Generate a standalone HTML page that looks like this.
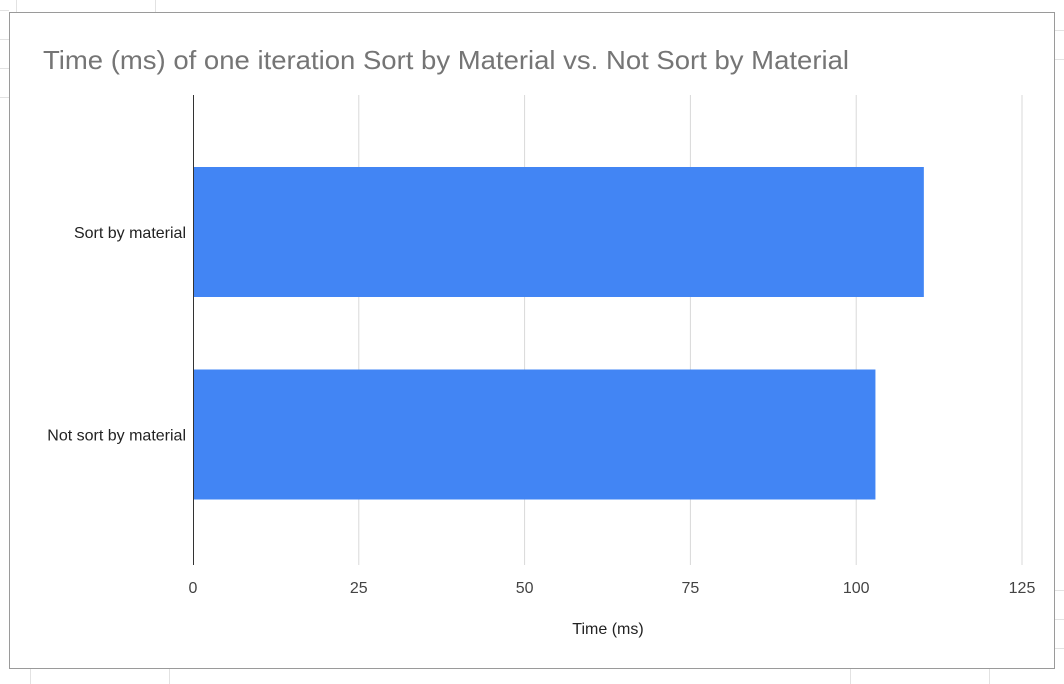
<!DOCTYPE html>
<html><head><meta charset="utf-8"><style>
body{margin:0;width:1064px;height:684px;background:#fff;position:relative;overflow:hidden;font-family:"Liberation Sans",Arial,sans-serif}
svg{position:absolute;left:0;top:0}
</style></head><body>
<svg width="1064" height="684">
<g stroke="#e2e2e2" stroke-width="1">
<line x1="16.5" y1="0" x2="16.5" y2="12"/><line x1="155.5" y1="0" x2="155.5" y2="12"/>
<line x1="0" y1="10.5" x2="9" y2="10.5"/>
<line x1="0" y1="39.5" x2="9" y2="39.5"/><line x1="0" y1="68.5" x2="9" y2="68.5"/><line x1="0" y1="97.5" x2="9" y2="97.5"/>
<line x1="30.5" y1="669" x2="30.5" y2="684"/><line x1="169.5" y1="669" x2="169.5" y2="684"/><line x1="850.5" y1="669" x2="850.5" y2="684"/><line x1="989.5" y1="669" x2="989.5" y2="684"/>
<line x1="1055" y1="590.5" x2="1064" y2="590.5"/><line x1="1055" y1="619.5" x2="1064" y2="619.5"/><line x1="1055" y1="648.5" x2="1064" y2="648.5"/>
<line x1="1055" y1="30.5" x2="1064" y2="30.5"/><line x1="1055" y1="59.5" x2="1064" y2="59.5"/>
</g>
<rect x="9.5" y="12.5" width="1045" height="656" fill="#fff" stroke="#9a9a9a"/>
<text x="43" y="69" font-size="26" fill="#757575" textLength="806" lengthAdjust="spacingAndGlyphs">Time (ms) of one iteration Sort by Material vs. Not Sort by Material</text>
<g id="grid"></g><g id="bars"></g><g id="labels"></g>
<text x="608" y="634" font-size="16" fill="#222" text-anchor="middle">Time (ms)</text>
</svg>
<script>
const categories=["Sort by material","Not sort by material"];
const values=[110.2,102.9];
const ticks=[0,25,50,75,100,125];
const NS="http://www.w3.org/2000/svg";
const X0=193,X1=1022,XMAX=125,PTOP=95,PBOT=565;
const xs=v=>X0+(X1-X0)*v/XMAX;
const C0=232,BAND=202.5,BH=130;
function mk(t,a,p){const e=document.createElementNS(NS,t);for(const k in a)e.setAttribute(k,a[k]);p.appendChild(e);return e;}
const gg=document.getElementById('grid'),bb=document.getElementById('bars'),ll=document.getElementById('labels');
ticks.forEach(t=>{
 if(t>0){const ln=mk('line',{x1:xs(t),x2:xs(t),y1:PTOP,y2:PBOT,stroke:'#d9d9d9','stroke-width':1},gg);
 
 }
 const tx=mk('text',{x:xs(t),y:593,'font-size':16,fill:'#444','text-anchor':'middle'},ll);tx.textContent=t;
 
 
});
categories.forEach((c,i)=>{
 const cy=C0+BAND*i;
 const r=mk('rect',{x:X0,y:cy-BH/2,width:xs(values[i])-X0,height:BH,fill:'#4285f4'},bb);
 
 
 const tx=mk('text',{x:186,y:cy+6,'font-size':16,fill:'#222','text-anchor':'end'},ll);tx.textContent=c;
 
 
});
const ax=mk('line',{x1:X0+0.5,x2:X0+0.5,y1:PTOP,y2:PBOT,stroke:'#333','stroke-width':1},ll);


</script>
</body></html>
